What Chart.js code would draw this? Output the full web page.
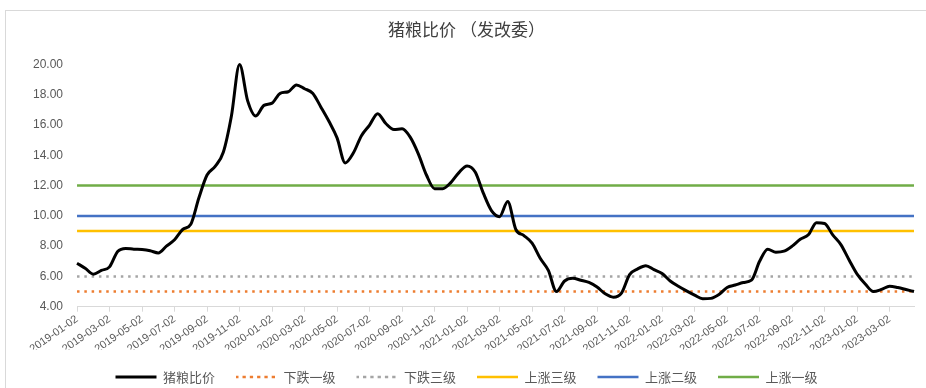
<!DOCTYPE html>
<html>
<head>
<meta charset="utf-8">
<script src="https://cdn.jsdelivr.net/npm/chart.js@4.4.1/dist/chart.umd.min.js"></script>
<style>
    html, body { margin: 0; padding: 0; background: #fff; }
    #wrap { position: relative; width: 926px; height: 388px; overflow: hidden; }
    #frame { position: absolute; left: 5px; top: 10px; width: 940px; height: 400px;
             border-left: 1px solid #d9d9d9; border-top: 1px solid #d9d9d9; }
    #chart { position: absolute; left: 0; top: 0; }
</style>
</head>
<body>
<div id="wrap">
    <div id="frame"></div>
    <canvas id="chart" width="926" height="388"></canvas>
</div>
<script>
// semi-monthly dates, 2019-01-02 .. 2023-04-17
const dates = [];
for (let y = 2019; y <= 2023; y++) {
    for (let m = 1; m <= 12; m++) {
        if (y === 2023 && m > 4) break;
        const mm = String(m).padStart(2, '0');
        dates.push(`${y}-${mm}-02`, `${y}-${mm}-17`);
    }
}

const ratio = [
    6.87, 6.54, 6.15, 6.40, 6.63, 7.65, 7.85, 7.80, 7.78, 7.70,
    7.55, 8.00, 8.42, 9.10, 9.45, 11.2, 12.7, 13.27, 14.2, 16.6,
    20.0, 17.6, 16.6, 17.3, 17.45, 18.1, 18.2, 18.65, 18.4, 18.1,
    17.2, 16.25, 15.15, 13.5, 14.15, 15.3, 16.0, 16.75, 16.1, 15.7,
    15.75, 15.2, 14.1, 12.7, 11.8, 11.8, 12.2, 12.86, 13.3, 12.9,
    11.5, 10.35, 9.95, 10.95, 9.1, 8.7, 8.2, 7.2, 6.4, 5.0,
    5.7, 5.88, 5.75, 5.6, 5.3, 4.85, 4.63, 4.9, 6.12, 6.5,
    6.71, 6.45, 6.19, 5.7, 5.35, 5.05, 4.77, 4.53, 4.55, 4.8,
    5.27, 5.43, 5.6, 5.75, 7.0, 7.8, 7.6, 7.67, 8.0, 8.45,
    8.75, 9.55, 9.5, 8.74, 8.1, 7.1, 6.15, 5.5, 5.0, 5.14,
    5.35, 5.27, 5.14, 5.0
];

const levelNames = ['下跌一级', '下跌三级', '上涨三级', '上涨二级', '上涨一级'];
const levelValues = [5, 6, 9, 10, 12];
const levelColors = ['#ED7D31', '#A5A5A5', '#FFC000', '#4472C4', '#70AD47'];
const levelDotted = [true, true, false, false, false];

const yTicks = [4, 6, 8, 10, 12, 14, 16, 18, 20];

const textColor = '#595959';
const cjk = "'Noto Sans CJK SC', 'Noto Sans', sans-serif";

const datasets = [{
    label: '猪粮比价',
    data: ratio,
    borderColor: '#000000',
    backgroundColor: '#000000',
    borderWidth: 3,
    pointRadius: 0,
    clip: false,
    cubicInterpolationMode: 'monotone'
}];

levelNames.forEach((name, i) => {
    datasets.push({
        label: name,
        data: [
            { x: dates[0], y: levelValues[i] },
            { x: dates[dates.length - 1], y: levelValues[i] }
        ],
        borderColor: levelColors[i],
        backgroundColor: levelColors[i],
        borderWidth: 2.5,
        borderDash: levelDotted[i] ? [2.5, 4.8] : [],
        pointRadius: 0
    });
});

new Chart(document.getElementById('chart'), {
    type: 'line',
    data: { labels: dates, datasets: datasets },
    options: {
        responsive: false,
        animation: false,
        devicePixelRatio: 1,
        layout: { padding: { top: 10, left: 19, right: 12, bottom: -5.5 } },
        plugins: {
            title: {
                display: true,
                text: '猪粮比价 （发改委）',
                color: '#404040',
                font: { family: cjk, size: 17, weight: 'normal' },
                padding: { top: 9, bottom: 25.1 }
            },
            legend: {
                position: 'bottom',
                labels: {
                    color: textColor,
                    font: { family: cjk, size: 13 },
                    boxWidth: 41,
                    boxHeight: 0,
                    padding: 21
                }
            },
            tooltip: { enabled: false }
        },
        scales: {
            x: {
                type: 'category',
                offset: false,
                grid: { drawOnChartArea: false, drawTicks: true, tickLength: 5, color: '#d9d9d9' },
                border: { display: true, color: '#d9d9d9' },
                ticks: {
                    autoSkip: false,
                    maxRotation: 35,
                    minRotation: 35,
                    padding: 1,
                    color: textColor,
                    font: { family: "'Liberation Sans', sans-serif", size: 11 },
                    callback: function (value, index) {
                        return index % 4 === 0 ? dates[index] : null;
                    }
                },
                afterFit: function (scale) { scale.height = 42.8; }
            },
            y: {
                min: 4,
                max: 20,
                grid: { display: false, drawTicks: false },
                border: { display: false },
                afterBuildTicks: function (scale) {
                    scale.ticks = yTicks.map(v => ({ value: v }));
                },
                ticks: {
                    padding: 14,
                    color: textColor,
                    font: { family: "'Liberation Sans', sans-serif", size: 12 },
                    callback: v => v.toFixed(2)
                }
            }
        }
    }
});
</script>
</body>
</html>
